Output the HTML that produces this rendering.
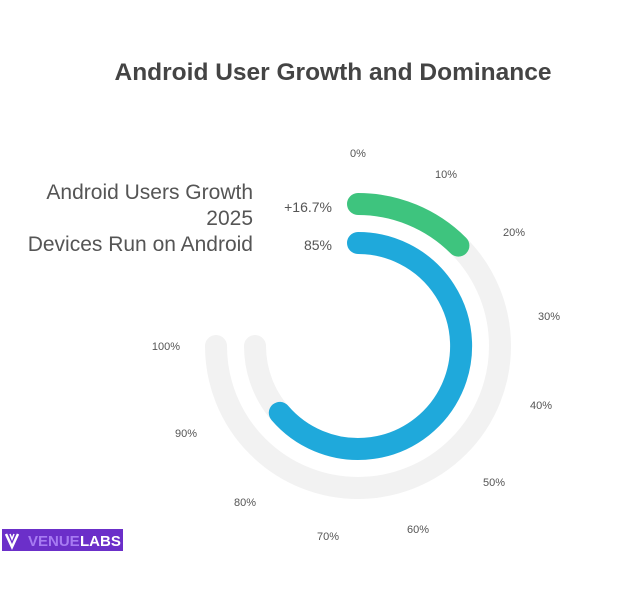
<!DOCTYPE html>
<html><head><meta charset="utf-8"><style>
html,body{margin:0;padding:0;background:#fff;}
svg{display:block;font-family:"Liberation Sans",sans-serif;}
</style></head><body>
<svg width="628" height="600" viewBox="0 0 628 600">
<text x="333" y="80" text-anchor="middle" font-size="24.5" font-weight="bold" fill="#444">Android User Growth and Dominance</text>
<g fill="none" stroke-width="22" stroke-linecap="round">
<path d="M358 204 A142 142 0 1 1 216 346" stroke="#f2f2f2"/>
<path d="M358 243 A103 103 0 1 1 255 346" stroke="#f2f2f2"/>
<path d="M358 204 A142 142 0 0 1 458.4 245.6" stroke="#3ec47e"/>
<path d="M358 243 A103 103 0 1 1 279.8 412.9" stroke="#1fa9db"/>
</g>
<g font-size="21" fill="#555" text-anchor="end">
<text x="253" y="199">Android Users Growth</text>
<text x="253" y="225">2025</text>
<text x="253" y="251">Devices Run on Android</text>
</g>
<g font-size="14" fill="#555" text-anchor="end">
<text x="332" y="212">+16.7%</text>
<text x="332" y="250">85%</text>
</g>
<g font-size="11" fill="#555" text-anchor="middle">
<text x="358" y="157">0%</text>
<text x="446" y="178">10%</text>
<text x="514" y="236">20%</text>
<text x="549" y="320">30%</text>
<text x="541" y="409">40%</text>
<text x="494" y="486">50%</text>
<text x="418" y="533">60%</text>
<text x="328" y="540">70%</text>
<text x="245" y="506">80%</text>
<text x="186" y="437">90%</text>
<text x="166" y="350">100%</text>
</g>
<rect x="2" y="529" width="121" height="22" fill="#6b2fc9"/>
<path d="M6 534 L12 547 L18 534" fill="none" stroke="#fff" stroke-width="2.5"/>
<path d="M10 534 L12 539 L14 534" fill="none" stroke="#fff" stroke-width="1.5"/>
<text x="28" y="546" font-size="15" font-weight="bold" fill="#a77bf2">VENUE</text>
<text x="80" y="546" font-size="15" font-weight="bold" fill="#fff">LABS</text>
</svg>
</body></html>
